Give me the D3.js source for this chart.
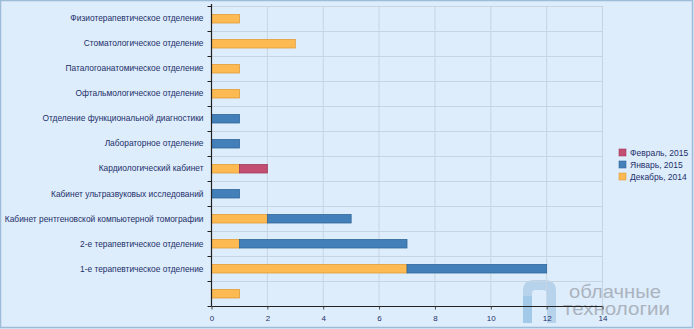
<!DOCTYPE html>
<html><head><meta charset="utf-8">
<script src="https://cdn.jsdelivr.net/npm/d3@7"></script>
<style>
html,body{margin:0;padding:0;background:#deedfc;}
svg{display:block;}
text{font-family:"Liberation Sans",Arial,sans-serif;}
</style></head>
<body>
<svg id="c" width="694" height="329"></svg>
<script>
const categories = [
  "Физиотерапевтическое отделение",
  "Стоматологическое отделение",
  "Паталогоанатомическое отделение",
  "Офтальмологическое отделение",
  "Отделение функциональной диагностики",
  "Лабораторное отделение",
  "Кардиологический кабинет",
  "Кабинет ультразвуковых исследований",
  "Кабинет рентгеновской компьютерной томографии",
  "2-е терапевтическое отделение",
  "1-е терапевтическое отделение",
  ""
];
const seriesNames = ["Декабрь, 2014", "Январь, 2015", "Февраль, 2015"];
const dec2014 = [1, 3, 1, 1, 0, 0, 1, 0, 2, 1, 7, 1];
const jan2015 = [0, 0, 0, 0, 1, 1, 0, 1, 3, 6, 5, 0];
const feb2015 = [0, 0, 0, 0, 0, 0, 1, 0, 0, 0, 0, 0];
const xTicks = [0, 2, 4, 6, 8, 10, 12, 14];

const colors = ["#fdba52", "#4380b9", "#c24f72"];
const strokes = ["#e29c36", "#2f6699", "#a23a5b"];

(function(){
const svg = d3.select("#c");
const W = 694, H = 329;
svg.append("rect").attr("x",0.5).attr("y",0.5).attr("width",W-2).attr("height",H-2)
  .attr("fill","#deedfc").attr("stroke","#9dbcd8").attr("stroke-width",1.5);

const pL = 211.5, pR = 602.5, pT = 6, pB = 306.5;
const x = d3.scaleLinear().domain([0, 14]).range([pL, pR]);
const idx = categories.map((c,i)=>i);
const y = d3.scaleBand().domain(idx).range([pT, pB]).paddingInner(0.64).paddingOuter(0.32);
const yb = d3.scaleBand().domain(idx).range([pT, pB]);

// watermark (behind)
const wm = svg.append("g").attr("opacity",0.75);
wm.append("path").attr("d","M523,323 V291 Q523,280 534,280 H545 Q556,280 556,291 V323 H547 V294 Q547,290 543,290 H535 Q532,290 532,294 V323 Z")
  .attr("fill","#a9cbe6");
wm.append("rect").attr("x",523).attr("y",296).attr("width",9).attr("height",27).attr("fill","#90bde2");
wm.append("text").attr("x",569).attr("y",298).attr("font-size","19px").attr("font-family","DejaVu Sans, sans-serif")
  .attr("fill","#9aa1aa").attr("textLength",92).attr("lengthAdjust","spacingAndGlyphs").text("облачные");
wm.append("text").attr("x",563).attr("y",315).attr("font-size","19px").attr("font-family","DejaVu Sans, sans-serif")
  .attr("fill","#9aa1aa").attr("textLength",107).attr("lengthAdjust","spacingAndGlyphs").text("технологии");

const g = svg.append("g");
g.selectAll("line.vg").data(xTicks.slice(1)).enter().append("line")
  .attr("x1", d=>x(d)).attr("x2", d=>x(d)).attr("y1", pT).attr("y2", pB)
  .attr("stroke","#c7d5e2").attr("stroke-width",1);
g.selectAll("line.hg").data(idx).enter().append("line")
  .attr("x1", pL).attr("x2", pR).attr("y1", d=>Math.round(yb(d))+0.5).attr("y2", d=>Math.round(yb(d))+0.5)
  .attr("stroke","#c7d5e2").attr("stroke-width",1);

const rows = idx.map(i=>({i, v:[dec2014[i], jan2015[i], feb2015[i]]}));
const stack = d3.stack().keys([0,1,2]).value((d,k)=>d.v[k]);
const stacked = stack(rows);
stacked.forEach((s,k)=>{
  g.selectAll(null).data(s.filter(d=>d[1]>d[0])).enter().append("rect")
    .attr("x", d=>x(d[0])).attr("width", d=>x(d[1])-x(d[0]))
    .attr("y", d=>Math.round(y(d.data.i))+0.5).attr("height", 8.5)
    .attr("fill", colors[k]).attr("stroke", strokes[k]).attr("stroke-width",0.8);
});

const yAxis = d3.axisLeft(yb).tickSize(0).tickPadding(8).tickFormat(i=>categories[i]);
const ya = svg.append("g").attr("transform",`translate(${pL},0)`).call(yAxis);
ya.select(".domain").remove();
ya.selectAll("text").attr("fill","#1d2f6a").attr("font-size","8.4px").attr("font-family","Liberation Sans, Arial, sans-serif");
svg.append("line").attr("x1",pL).attr("x2",pL).attr("y1",pT-2).attr("y2",pB).attr("stroke","#222").attr("stroke-width",1.2);
svg.selectAll("line.yt").data(idx.concat([null])).enter().append("line")
  .attr("x1",pL-4).attr("x2",pL)
  .attr("y1", d=> d===null? pB : Math.round(yb(d))+0.5)
  .attr("y2", d=> d===null? pB : Math.round(yb(d))+0.5)
  .attr("stroke","#222").attr("stroke-width",1);

const xAxis = d3.axisBottom(x).tickValues(xTicks).tickSize(3).tickPadding(6);
const xa = svg.append("g").attr("transform",`translate(0,${pB})`).call(xAxis);
xa.select(".domain").attr("stroke","#222").attr("d",`M${pL},0H${pR}`);
xa.selectAll("line").attr("stroke","#444");
xa.selectAll("text").attr("fill","#1d2f6a").attr("font-size","8px").attr("font-family","Liberation Sans, Arial, sans-serif");

const legendOrder = [2,1,0];
const lg = svg.append("g").attr("transform","translate(619,149)");
legendOrder.forEach((k,j)=>{
  lg.append("rect").attr("x",0).attr("y",j*12).attr("width",7).attr("height",7)
    .attr("fill",colors[k]).attr("stroke",strokes[k]).attr("stroke-width",0.6);
  lg.append("text").attr("x",11).attr("y",j*12+7).attr("font-size","8.5px").attr("fill","#1d2f6a").text(seriesNames[k]);
});
})();
</script>
</body></html>
